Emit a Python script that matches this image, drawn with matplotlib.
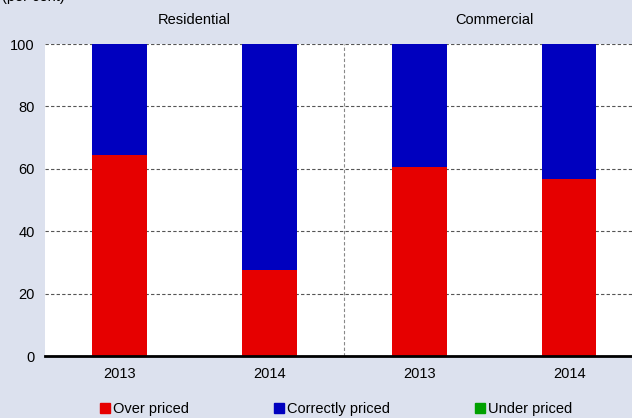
import matplotlib.pyplot as plt
from matplotlib.patches import Patch

plt.rcParams['font.family'] = ['Liberation Sans', 'DejaVu Sans']

groups = ["Residential", "Commercial"]
years = ["2013", "2014", "2013", "2014"]
over = [64.5, 27.6, 60.6, 56.8]
correct = [35.5, 72.4, 39.4, 43.2]
under = [0, 0, 0, 0]

bg = "#DCE1EE"
red = "#E60000"
blue = "#0000BF"
green = "#00A000"

fig = plt.figure(figsize=(6.32, 4.18), dpi=100, facecolor=bg)
W, H = 632, 418
ax = fig.add_axes([44.6 / W, (H - 356) / H, (644 - 44.6) / W, 312 / H])
ax.set_facecolor("white")

x = range(len(years))
ax.bar(x, over, width=0.365, color=red, zorder=3)
ax.bar(x, correct, width=0.365, bottom=over, color=blue, zorder=3)
bottoms = [o + c for o, c in zip(over, correct)]
ax.bar(x, under, width=0.365, bottom=bottoms, color=green, zorder=3)

ax.set_xlim(-0.5, 3.5)
ax.set_ylim(0, 100)
ax.set_yticks([0, 20, 40, 60, 80, 100])
ax.set_xticks(list(x))
ax.set_xticklabels(years)
ax.tick_params(length=0, labelsize=10.5, pad=8)
ax.tick_params(axis="y", pad=7)
ax.yaxis.grid(True, color="#555555", linestyle=(0, (3, 2)), linewidth=0.8, zorder=1)
ax.axvline(1.5, color="#888888", linestyle=(0, (3, 2)), linewidth=0.8, zorder=1)
for s in ["left", "right", "top"]:
    ax.spines[s].set_visible(False)
ax.spines["bottom"].set_linewidth(2)
ax.spines["bottom"].set_zorder(4)

for i, g in enumerate(groups):
    fig.text((44.6 + (i + 0.5) * 299.7) / W, 1 - 20 / H, g, ha="center", va="center", fontsize=10.5)

fig.text(0.003, 1 - 1 / H, "(per cent)", ha="left", va="baseline", fontsize=10.5)

handles = [Patch(color=red), Patch(color=blue), Patch(color=green)]
fig.legend(handles, ["Over priced", "Correctly priced", "Under priced"],
           loc="center", bbox_to_anchor=(336 / W, 1 - 409 / H), ncol=3,
           frameon=False, fontsize=10.5, handlelength=0.7, handleheight=0.7,
           handletextpad=0.2, columnspacing=5.8)

fig.savefig("out.png", dpi=100, facecolor=bg)
